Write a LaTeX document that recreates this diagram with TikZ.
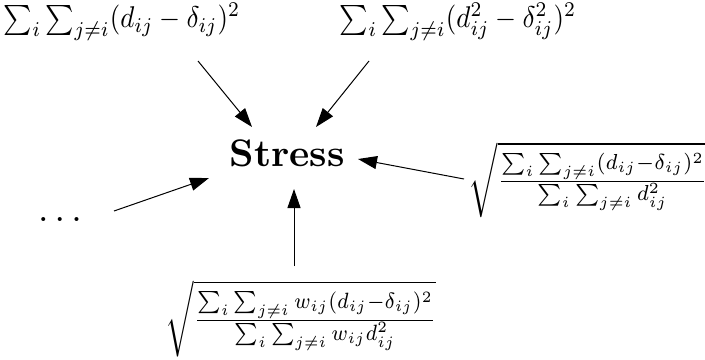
\documentclass[tikz,border=0pt]{standalone}
\usepackage{amsmath}
\usepackage{graphicx}
\usetikzlibrary{arrows.meta}
\newcommand{\topsz}[1]{\scalebox{1.35}[1.5]{#1}}
\newcommand{\rightsz}[1]{\scalebox{1.45}[1.55]{#1}}
\newcommand{\botsz}[1]{\scalebox{1.41}[1.58]{#1}}
\newcommand{\dotsz}[1]{\scalebox{1.88}{#1}}
\newcommand{\strsz}[1]{\scalebox{1.92}{\bfseries #1}}
\begin{document}
\begin{tikzpicture}[x=0.5pt,y=-0.5pt,
  lbl/.style={inner sep=0pt, outer sep=0pt},
  arr/.style={line width=0.5pt, -{Triangle[length=9.5pt,width=6.5pt]}}]
\useasboundingbox (0,0) rectangle (705,359);
\node[lbl] (tl) at (122,22) {\topsz{$\sum_i\sum_{j\neq i}(d_{ij}-\delta_{ij})^2$}};
\node[lbl] (tr) at (458,22) {\topsz{$\sum_i\sum_{j\neq i}(d_{ij}^2-\delta_{ij}^2)^2$}};
\node[lbl] (stress) at (287,153) {\strsz{Stress}};
\node[lbl] (right) at (588,180) {\rightsz{$\sqrt{\frac{\sum_i\sum_{j\neq i}(d_{ij}-\delta_{ij})^2}{\sum_i\sum_{j\neq i}d_{ij}^2}}$}};
\node[lbl] (bottom) at (301,319) {\botsz{$\sqrt{\frac{\sum_i\sum_{j\neq i}w_{ij}(d_{ij}-\delta_{ij})^2}{\sum_i\sum_{j\neq i}w_{ij}d_{ij}^2}}$}};
\node[lbl] (dots) at (60,220) {\dotsz{$\ldots$}};
\draw[arr] ([shift={(76,39)}]tl.center) -- ([shift={(-35,-26)}]stress.center);
\draw[arr] ([shift={(-89,39)}]tr.center) -- ([shift={(29,-26)}]stress.center);
\draw[arr] ([shift={(-124,-1)}]right.center) -- ([shift={(71,6)}]stress.center);
\draw[arr] ([shift={(54,-9)}]dots.center) -- ([shift={(-78,25)}]stress.center);
\draw[arr] ([shift={(-7,-53)}]bottom.center) -- ([shift={(7,36)}]stress.center);
\end{tikzpicture}
\end{document}
